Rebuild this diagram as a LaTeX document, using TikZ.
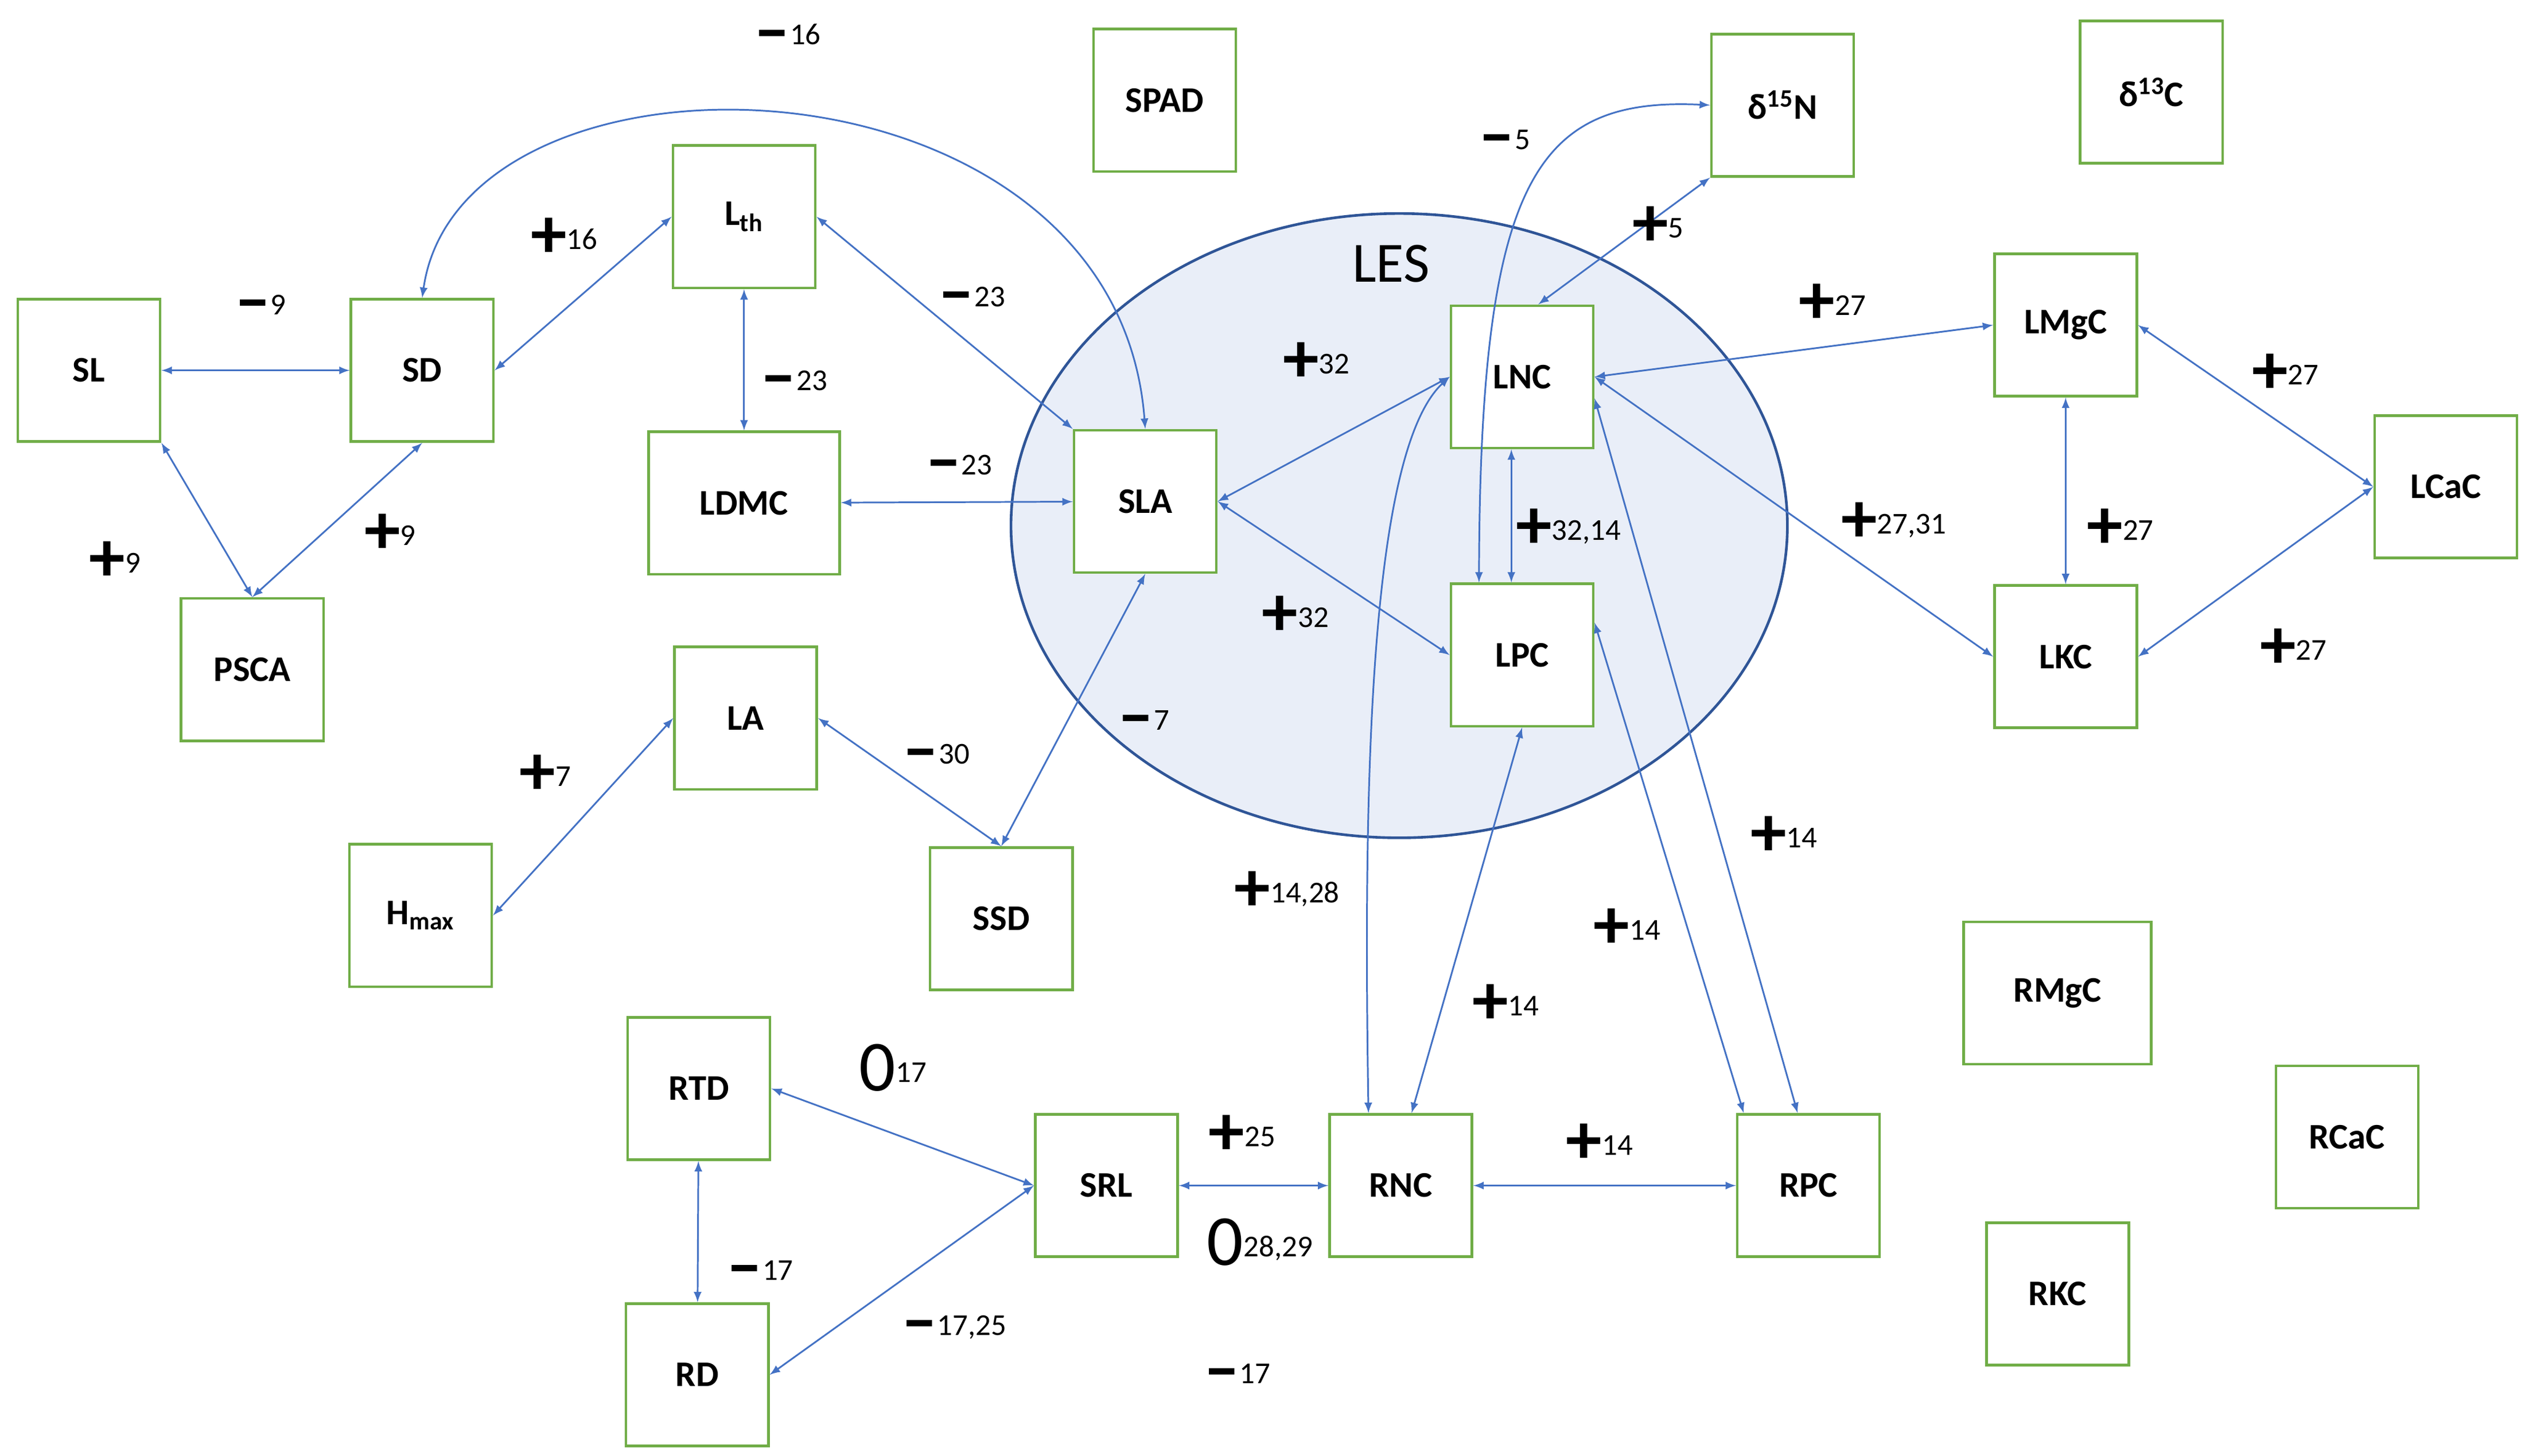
\documentclass[tikz,border=0pt]{standalone}
\usepackage{fontspec}
\setmainfont{Carlito}
\usetikzlibrary{calc}
\definecolor{boxgreen}{HTML}{70AD47}
\definecolor{arrblue}{HTML}{4472C4}
\definecolor{lesfill}{HTML}{E9EEF8}
\definecolor{lesdraw}{HTML}{2F5597}
\tikzset{
  trait/.style={draw=boxgreen, line width=1.4pt, fill=white, minimum width=2.64cm,
    minimum height=2.64cm, font=\fontsize{19}{19}\selectfont\bfseries},
  link/.style={draw=arrblue, line width=0.9pt, <->, >=latex},
  sig/.style={anchor=west, inner sep=0pt}
}
\newcommand{\sgn}[2]{{\fontsize{38}{38}\selectfont\bfseries #1}\raisebox{0.16cm}{\fontsize{16}{16}\selectfont #2}}
\begin{document}
\begin{tikzpicture}[x=0.03cm,y=-0.03cm]
        \useasboundingbox (0,0) rectangle (1561,900);
        % the LES ellipse
        \draw[lesdraw, fill=lesfill, line width=1.4pt] (865,325) ellipse [x radius=240, y radius=193];
        \node[font=\fontsize{30}{30}\selectfont] (les) at (860,163) {LES};

        % traits
        \node[trait] (SL) at (55,229) {SL};
        \node[trait] (SD) at (261,229) {SD};
        \node[trait] (PSCA) at (156,414) {PSCA};
        \node[trait] (Lth) at (460,134) {L\textsubscript{th}};
        \node[trait, minimum width=3.54cm] (LDMC) at (460,311) {LDMC};
        \node[trait] (SLA) at (708,310) {SLA};
        \node[trait] (LA) at (461,444) {LA};
        \node[trait] (Hmax) at (260,566) {H\textsubscript{max}};
        \node[trait] (SSD) at (619,568) {SSD};
        \node[trait] (SPAD) at (720,62) {SPAD};
        \node[trait] (d15N) at (1102,65) {δ\textsuperscript{15}N};
        \node[trait] (d13C) at (1330,57) {δ\textsuperscript{13}C};
        \node[trait] (LNC) at (941,233) {LNC};
        \node[trait] (LPC) at (941,405) {LPC};
        \node[trait] (LMgC) at (1277,201) {LMgC};
        \node[trait] (LCaC) at (1512,301) {LCaC};
        \node[trait] (LKC) at (1277,406) {LKC};
        \node[trait, minimum width=3.48cm] (RMgC) at (1272,614) {RMgC};
        \node[trait] (RCaC) at (1451,703) {RCaC};
        \node[trait] (RKC) at (1272,800) {RKC};
        \node[trait] (RTD) at (432,673) {RTD};
        \node[trait] (RD) at (431,850) {RD};
        \node[trait] (SRL) at (684,733) {SRL};
        \node[trait] (RNC) at (866,733) {RNC};
        \node[trait] (RPC) at (1118,733) {RPC};

        % links
        \draw[link] (SL) -- (SD);
        \draw[link] (SL.south east) -- (PSCA.north);
        \draw[link] (SD.south) -- (PSCA.north);
        \draw[link] (SD.east) -- (Lth.west);
        \draw[link] (SD.north) .. controls (285,15) and (690,25) .. (SLA.north);
        \draw[link] (Lth) -- (LDMC);
        \draw[link] (Lth.east) -- (SLA.north west);
        \draw[link] (LDMC) -- (SLA);
        \draw[link] (SLA.east) -- (LNC.west);
        \draw[link] (SLA.east) -- (LPC.west);
        \draw[link] (SLA.south) -- (SSD.north);
        \draw[link] (LA.west) -- (Hmax.east);
        \draw[link] (LA.east) -- (SSD.north);
        \draw[link] (d15N.south west) -- ([xshift=0.3cm]LNC.north);
        \draw[link] ([xshift=-0.8cm]LPC.north) .. controls (915,110) and (950,60) .. (d15N.west);
        \draw[link] ([xshift=-0.2cm]LNC.south) -- ([xshift=-0.2cm]LPC.north);
        \draw[link] (LNC.east) -- (LMgC.west);
        \draw[link] (LNC.east) -- (LKC.west);
        \draw[link] (LMgC.east) -- (LCaC.west);
        \draw[link] (LMgC) -- (LKC);
        \draw[link] (LKC.east) -- (LCaC.west);
        \draw[link] (LNC.west) .. controls (845,280) and (843,500) .. ([xshift=-0.6cm]RNC.north);
        \draw[link] ([yshift=-0.4cm]LNC.east) -- ([xshift=-0.2cm]RPC.north);
        \draw[link] ([yshift=0.6cm]LPC.east) -- ([xshift=-1.2cm]RPC.north);
        \draw[link] (LPC.south) -- ([xshift=0.2cm]RNC.north);
        \draw[link] (RTD.east) -- (SRL.west);
        \draw[link] (RTD) -- (RD);
        \draw[link] (RD.east) -- (SRL.west);
        \draw[link] (SRL) -- (RNC);
        \draw[link] (RNC) -- (RPC);

        % signs
        \node[sig] (s1) at (466,24) {\sgn{--}{16}};
        \node[sig] (s2) at (328,147) {\sgn{+}{16}};
        \node[sig] (s3) at (145,191) {\sgn{--}{9}};
        \node[sig] (s4) at (55,347) {\sgn{+}{9}};
        \node[sig] (s5) at (225,330) {\sgn{+}{9}};
        \node[sig] (s6) at (580,186) {\sgn{--}{23}};
        \node[sig] (s7) at (470,238) {\sgn{--}{23}};
        \node[sig] (s8) at (572,290) {\sgn{--}{23}};
        \node[sig] (s9) at (793,224) {\sgn{+}{32}};
        \node[sig] (s10) at (780,381) {\sgn{+}{32}};
        \node[sig] (s11) at (691,448) {\sgn{--}{7}};
        \node[sig] (s12) at (321,479) {\sgn{+}{7}};
        \node[sig] (s13) at (558,469) {\sgn{--}{30}};
        \node[sig] (s14) at (914,89) {\sgn{--}{5}};
        \node[sig] (s15) at (1009,140) {\sgn{+}{5}};
        \node[sig] (s16) at (1112,188) {\sgn{+}{27}};
        \node[sig] (s17) at (1392,231) {\sgn{+}{27}};
        \node[sig] (s18) at (937,327) {\sgn{+}{32,14}};
        \node[sig] (s19) at (1138,323) {\sgn{+}{27,31}};
        \node[sig] (s20) at (1290,327) {\sgn{+}{27}};
        \node[sig] (s21) at (1397,401) {\sgn{+}{27}};
        \node[sig] (s22) at (1082,517) {\sgn{+}{14}};
        \node[sig] (s23) at (763,551) {\sgn{+}{14,28}};
        \node[sig] (s24) at (985,574) {\sgn{+}{14}};
        \node[sig] (s25) at (910,621) {\sgn{+}{14}};
        \node[sig] (s26) at (747,702) {\sgn{+}{25}};
        \node[sig] (s27) at (968,707) {\sgn{+}{14}};
        \node[sig] (s28) at (531,660) {\sgn{\mdseries 0}{17}};
        \node[sig] (s29) at (746,768) {\sgn{\mdseries 0}{28,29}};
        \node[sig] (s30) at (449,788) {\sgn{--}{17}};
        \node[sig] (s31) at (557,822) {\sgn{--}{17,25}};
        \node[sig] (s32) at (744,852) {\sgn{--}{17}};
\end{tikzpicture}
\end{document}
